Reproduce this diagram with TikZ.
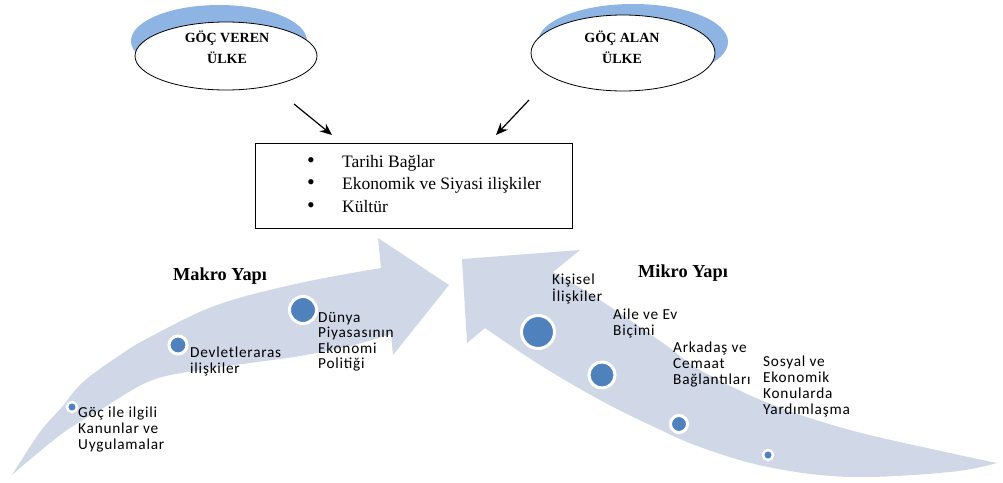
\documentclass[tikz,border=0pt]{standalone}
\usepackage{fontspec}
\setmainfont{Liberation Serif}
\newfontfamily\calib[LetterSpace=5]{Carlito}
\usetikzlibrary{shapes.geometric, arrows.meta}
\definecolor{arrowfill}{HTML}{D0D8E8}
\definecolor{dotblue}{HTML}{4F81BD}
\definecolor{shadowblue}{HTML}{8EB4E3}
\newcommand{\bigbullet}{{\fontsize{22}{22}\selectfont\textbullet}}
\begin{document}
\begin{tikzpicture}[x=1pt, y=-1pt,
  country/.style={ellipse, draw=black, line width=0.8pt, fill=white, inner sep=0pt},
  countrytext/.style={anchor=base, inner sep=0pt, font=\fontsize{14}{21}\selectfont\bfseries},
  bigarrow/.style={fill=arrowfill},
  dot/.style={circle, fill=dotblue, draw=white, line width=3pt, inner sep=0pt},
  item/.style={anchor=base west, inner sep=0pt, font=\fontsize{15.3}{16}\calib},
  heading/.style={anchor=base west, inner sep=0pt, font=\fontsize{18.3}{20}\selectfont\bfseries},
  listbox/.style={draw=black, line width=0.9pt, anchor=north west, inner sep=0pt},
  pointer/.style={-{Stealth[length=12pt, width=10pt]}, line width=1.2pt, black}
]
\useasboundingbox (0,0) rectangle (1003,482);

% big curved arrows
\fill[bigarrow] plot[smooth, tension=0.6] coordinates {(12,475) (40,432) (62,407) (83,382) (120,355) (150,337) (217,305) (300,283) (381,268)}
  -- (378,238) -- (449,285) -- (393,355) -- (391,334)
  -- plot[smooth, tension=0.6] coordinates {(391,334) (350,346) (300,356) (250,363) (200,370) (150,381) (100,410) (67,430) (33,457) (12,475)} -- cycle;

\fill[bigarrow] plot[smooth, tension=0.6] coordinates {(997,463) (950,453) (850,430) (768,403) (700,370) (663,343) (600,300) (553,272)}
  -- (580,250) -- (462,259) -- (467,343) -- (485,328)
  -- plot[smooth, tension=0.6] coordinates {(485,328) (540,365) (600,400) (650,425) (700,447) (768,467) (850,477) (950,472) (997,463)} -- cycle;

% countries
\fill[shadowblue] (219,41) ellipse [x radius=88pt, y radius=36pt];
\fill[shadowblue] (633,42) ellipse [x radius=95pt, y radius=38pt];
\node[country, minimum width=182pt, minimum height=68pt] (veren) at (226,56) {};
\node[country, minimum width=184pt, minimum height=76pt] (alan) at (623,53) {};
\node[countrytext] (verentext) at (227,42) {\begin{tabular}[t]{@{}c@{}}GÖÇ VEREN\\ ÜLKE\end{tabular}};
\node[countrytext] (alantext) at (622,42) {\begin{tabular}[t]{@{}c@{}}GÖÇ ALAN\\ ÜLKE\end{tabular}};

% list box
\node[listbox, minimum width=317pt, minimum height=85pt] (box) at (255,143) {};
\node[anchor=base west, inner sep=0pt, font=\fontsize{17.5}{22.5}\selectfont] (list) at (307,167)
  {\begin{tabular}[t]{@{}p{35pt}@{}l@{}}\bigbullet & Tarihi Bağlar\\ \bigbullet & Ekonomik ve Siyasi ilişkiler\\ \bigbullet & Kültür\end{tabular}};

% pointers
\coordinate (vs) at (294,104);
\coordinate (as) at (529,100);
\coordinate (ve) at (332,135);
\coordinate (ae) at (496,135);
\draw[pointer] (vs) -- (ve);
\draw[pointer] (as) -- (ae);

% headings
\node[heading] (makro) at (173,280) {Makro Yapı};
\node[heading] (mikro) at (638,277) {Mikro Yapı};

% dots on macro arrow
\node[dot, minimum size=10pt, line width=2.5pt] (m1) at (72,407) {};
\node[dot, minimum size=18pt] (m2) at (178,345) {};
\node[dot, minimum size=27pt] (m3) at (303,310) {};
% dots on micro arrow
\node[dot, minimum size=33pt] (k1) at (538,332) {};
\node[dot, minimum size=26pt] (k2) at (602,375) {};
\node[dot, minimum size=17pt] (k3) at (679,424) {};
\node[dot, minimum size=10pt, line width=2.5pt] (k4) at (768,455) {};

% texts
\node[item] (t1) at (78,417) {\begin{tabular}[t]{@{}l@{}}Göç ile ilgili\\ Kanunlar ve\\ Uygulamalar\end{tabular}};
\node[item] (t2) at (190,357) {\begin{tabular}[t]{@{}l@{}}Devletleraras\\ ilişkiler\end{tabular}};
\node[item, font=\fontsize{15.3}{15.5}\calib] (t3) at (318,322) {\begin{tabular}[t]{@{}l@{}}Dünya\\ Piyasasının\\ Ekonomi\\ Politiği\end{tabular}};
\node[item] (u1) at (552,284) {\begin{tabular}[t]{@{}l@{}}Kişisel\\ İlişkiler\end{tabular}};
\node[item] (u2) at (613,319) {\begin{tabular}[t]{@{}l@{}}Aile ve Ev\\ Biçimi\end{tabular}};
\node[item] (u3) at (673,352) {\begin{tabular}[t]{@{}l@{}}Arkadaş ve\\ Cemaat\\ Bağlantıları\end{tabular}};
\node[item] (u4) at (763,366) {\begin{tabular}[t]{@{}l@{}}Sosyal ve\\ Ekonomik\\ Konularda\\ Yardımlaşma\end{tabular}};
\end{tikzpicture}
\end{document}
